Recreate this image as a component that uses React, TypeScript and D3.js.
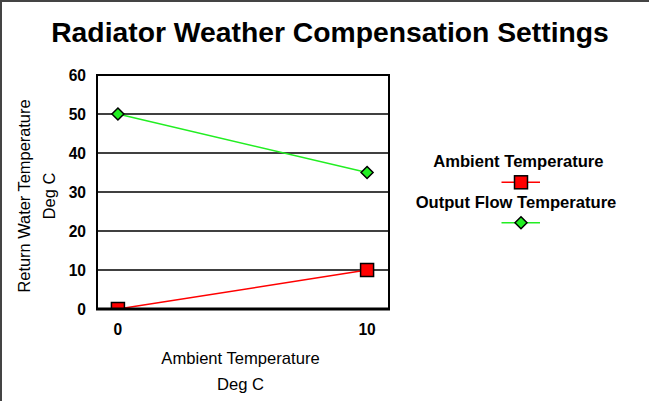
import React from "react";
import * as d3 from "d3";

const xValues = [0, 10];
const ambientSeries = [0, 10];
const outputFlowSeries = [50, 35];
const yTicks = [0, 10, 20, 30, 40, 50, 60];
const xTicks = [0, 10];
const seriesNames = ["Ambient Temperature", "Output Flow Temperature"];

const W = 649;
const H = 401;
const M = { left: 97, top: 75, right: 389, bottom: 309 };

export default function App() {
  const x = d3.scaleLinear().domain([-0.84, 10.88]).range([M.left, M.right]);
  const y = d3.scaleLinear().domain([0, 60]).range([M.bottom, M.top]);
  const line = d3
    .line<number>()
    .x((_, i) => x(xValues[i]))
    .y((d) => y(d));
  const diamond = (cx: number, cy: number, r: number) =>
    `M${cx},${cy - r}L${cx + r},${cy}L${cx},${cy + r}L${cx - r},${cy}Z`;
  const font = "Liberation Sans, Arial, Helvetica, sans-serif";
  const green = "#22ee22";
  return (
    <svg
      width={W}
      height={H}
      style={{ position: "absolute", left: 0, top: 0, background: "#fff" }}
      fontFamily={font}
    >
      <rect x={0} y={0} width={W} height={H} fill="#fff" />
      <line x1={1} y1={0} x2={1} y2={H} stroke="#444" strokeWidth={2} />
      <line x1={0} y1={1} x2={W} y2={1} stroke="#444" strokeWidth={2} />
      <text x={330} y={42} textAnchor="middle" fontWeight="bold" fontSize={28.3}>
        Radiator Weather Compensation Settings
      </text>
      <defs>
        <clipPath id="plot">
          <rect x={M.left} y={M.top - 10} width={M.right - M.left + 10} height={M.bottom - M.top + 10} />
        </clipPath>
      </defs>
      {yTicks.map((t) => (
        <g key={t}>
          <line x1={M.left} x2={M.right} y1={y(t)} y2={y(t)} stroke="#000" strokeWidth={1.6} />
          <text x={86} y={y(t) + 5.5} textAnchor="end" fontWeight="bold" fontSize={15.6}>
            {t}
          </text>
        </g>
      ))}
      <rect
        x={M.left}
        y={M.top}
        width={M.right - M.left}
        height={M.bottom - M.top}
        fill="none"
        stroke="#000"
        strokeWidth={2}
      />
      <g clipPath="url(#plot)">
        <path d={line(outputFlowSeries) || ""} fill="none" stroke={green} strokeWidth={1.5} />
        <path d={line(ambientSeries) || ""} fill="none" stroke="#ff0000" strokeWidth={1.5} />
        {outputFlowSeries.map((v, i) => (
          <path key={i} d={diamond(x(xValues[i]), y(v), 6)} fill={green} stroke="#000" strokeWidth={1.5} />
        ))}
        {ambientSeries.map((v, i) => (
          <rect
            key={i}
            x={x(xValues[i]) - 6.5}
            y={y(v) - 6.5}
            width={13}
            height={13}
            fill="#ff0000"
            stroke="#000"
            strokeWidth={1.5}
          />
        ))}
      </g>
      <line x1={M.left - 1} x2={M.right + 1} y1={M.bottom} y2={M.bottom} stroke="#000" strokeWidth={3} />
      {xTicks.map((t) => (
        <text key={t} x={x(t)} y={334.5} textAnchor="middle" fontWeight="bold" fontSize={15.6}>
          {t}
        </text>
      ))}
      <text x={240.5} y={364} textAnchor="middle" fontSize={16.6}>
        Ambient Temperature
      </text>
      <text x={240.5} y={390} textAnchor="middle" fontSize={16.6}>
        Deg C
      </text>
      <text transform="translate(30,196) rotate(-90)" textAnchor="middle" fontSize={16.4}>
        Return Water Temperature
      </text>
      <text transform="translate(55,196) rotate(-90)" textAnchor="middle" fontSize={16.4}>
        Deg C
      </text>
      <text x={518.4} y={166.7} textAnchor="middle" fontWeight="bold" fontSize={16.6}>
        {seriesNames[0]}
      </text>
      <line x1={501.5} x2={540} y1={182.3} y2={182.3} stroke="#ff0000" strokeWidth={1.5} />
      <rect x={514.5} y={175.8} width={13} height={13} fill="#ff0000" stroke="#000" strokeWidth={1.5} />
      <text x={516} y={207.7} textAnchor="middle" fontWeight="bold" fontSize={16.6}>
        {seriesNames[1]}
      </text>
      <line x1={501.5} x2={540} y1={222.7} y2={222.7} stroke={green} strokeWidth={1.5} />
      <path d={diamond(521, 222.7, 6)} fill={green} stroke="#000" strokeWidth={1.5} />
    </svg>
  );
}
